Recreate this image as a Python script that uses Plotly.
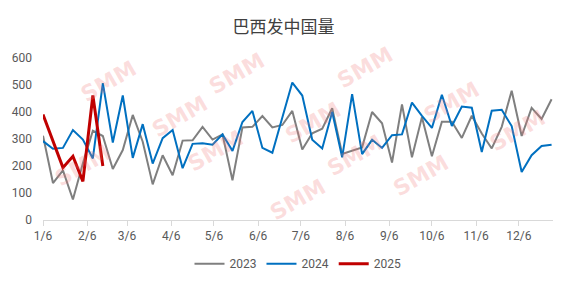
import pandas as pd
import plotly.graph_objects as go

title = "巴西发中国量"
weeks = pd.date_range("2023-01-06", periods=52, freq="7D")

s2023 = [312, 137, 184, 76, 210, 331, 311, 189, 259, 389, 290, 132, 240, 166, 294, 295,
         345, 298, 317, 147, 343, 345, 385, 343, 352, 404, 261, 321, 338, 414, 245, 256,
         269, 400, 358, 213, 428, 232, 381, 236, 364, 364, 304, 386, 320, 265, 345, 479,
         311, 415, 374, 447]
s2024 = [292, 264, 267, 333, 298, 228, 507, 287, 461, 230, 355, 209, 303, 333, 192, 282,
         284, 279, 317, 256, 363, 404, 267, 249, 380, 509, 461, 297, 265, 400, 232, 466,
         244, 297, 267, 314, 317, 435, 386, 341, 464, 348, 420, 416, 252, 405, 408, 348,
         178, 240, 274, 279]
s2025 = [391, 290, 194, 236, 143, 461, 200]

series = [("2023", s2023, "#7f7f7f", 2), ("2024", s2024, "#0070c0", 2), ("2025", s2025, "#c00000", 3)]

tick_vals = [f"2023-{m:02d}-06" for m in range(1, 13)]
tick_labels = [f"{m}/6" for m in range(1, 13)]
y_ticks = [0, 100, 200, 300, 400, 500, 600]

# watermark positions (paper fraction)
wm = [(0.06, 1.03), (0.20, 0.64), (0.01, 0.16), (0.38, 1.08), (0.53, 0.78), (0.34, 0.25),
      (0.50, -0.05), (0.70, 1.12), (0.68, 0.40), (0.87, 0.90), (1.0, 0.55), (0.81, 0.10)]

fig = go.Figure()
for name, vals, color, w in series:
    fig.add_trace(go.Scatter(x=weeks[:len(vals)], y=vals, name=name, mode="lines",
                             line=dict(color=color, width=w)))

for (px, py) in wm:
    fig.add_annotation(x=px, y=py, xref="paper", yref="paper", text="<b>SMM</b>",
                       showarrow=False, textangle=-30,
                       font=dict(family="Arial Black, DejaVu Sans", size=22,
                                 color="rgba(240,120,120,0.25)"))

fig.update_layout(
    width=567, height=284,
    margin=dict(l=43, r=14, t=58, b=64, autoexpand=False),
    paper_bgcolor="white", plot_bgcolor="white",
    title=dict(text=title, x=0.5, xanchor="center", y=0.905, yanchor="middle",
               font=dict(family="Noto Sans CJK SC", size=17, color="#404040")),
    font=dict(family="Roboto, Noto Sans", size=12, color="#595959"),
    showlegend=True,
    legend=dict(orientation="h", x=0.5, xanchor="center", y=-0.27, yanchor="middle",
                font=dict(size=12, color="#595959"), itemwidth=30),
    xaxis=dict(type="date", range=["2023-01-06", "2023-12-30"], tickvals=tick_vals,
               ticktext=tick_labels, showgrid=False, showline=True, linecolor="#d9d9d9",
               ticks="outside", ticklen=5, tickcolor="#d9d9d9", zeroline=False,
               tickfont=dict(size=12, color="#595959")),
    yaxis=dict(range=[0, 600], tickvals=y_ticks, showgrid=False, zeroline=False,
               showline=False, ticklabelstandoff=10, tickfont=dict(size=12, color="#595959")),
    hovermode=False,
)

fig.write_html("out.html")
